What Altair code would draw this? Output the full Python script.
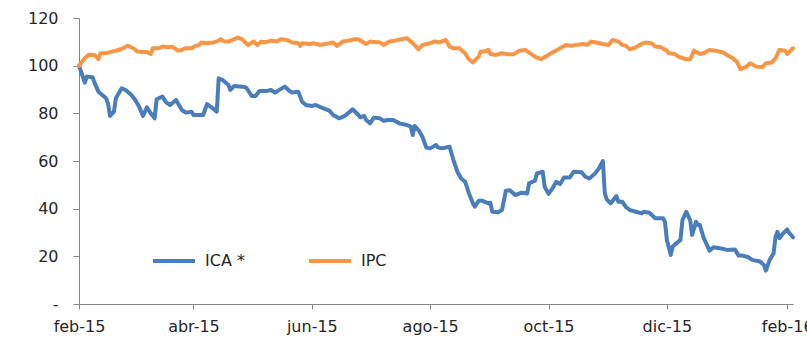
import altair as alt
import pandas as pd

START = "2015-02-01"  # day 0 of the day index below

ica_day = [0, 3, 4, 7, 8, 10, 14, 15, 16, 18, 19, 22, 24, 27, 29, 31, 33, 35, 37, 39,
           40, 43, 45, 47, 50, 53, 55, 58, 59, 64, 66, 69, 71, 72, 74, 77, 78, 80, 84, 86,
           87, 89, 91, 93, 97, 99, 101, 106, 109, 110, 113, 114, 115, 117, 120, 122, 126, 129, 131, 134,
           137, 141, 144, 145, 147, 148, 150, 152, 155, 157, 159, 162, 165, 169, 171, 172, 173, 175, 177, 179,
           181, 184, 185, 187, 191, 193, 195, 197, 199, 201, 203, 204, 206, 208, 211, 212, 213, 216, 218, 220,
           222, 225, 228, 231, 232, 235, 236, 239, 240, 242, 244, 246, 248, 250, 253, 255, 259, 261, 263, 266,
           268, 270, 271, 272, 274, 277, 278, 280, 282, 284, 287, 290, 291, 294, 297, 301, 302, 303, 305, 306,
           310, 311, 313, 315, 316, 318, 319, 320, 322, 325, 327, 331, 334, 338, 340, 342, 345, 347, 351, 353,
           354, 356, 358, 359, 360, 361, 363, 365, 366, 368]
ica_val = [100.0, 92.9, 95.4, 95.1, 92.9, 89.1, 86.3, 83.9, 78.9, 80.7, 86.3, 90.5, 89.8, 87.7, 85.6, 82.8, 78.9, 82.5, 80.0, 77.9,
           85.9, 87.0, 84.5, 83.5, 85.6, 81.4, 80.3, 80.7, 79.3, 79.3, 83.9, 82.1, 80.7, 94.7, 94.0, 91.9, 89.8, 91.5, 91.2, 90.9,
           89.8, 87.3, 87.3, 89.4, 89.4, 89.8, 88.7, 91.2, 89.1, 88.7, 89.1, 87.0, 84.9, 83.5, 83.1, 83.5, 82.1, 81.1, 79.3, 77.9,
           78.9, 81.7, 79.3, 78.3, 78.9, 77.2, 75.8, 78.2, 77.9, 76.9, 77.2, 77.2, 75.8, 75.1, 74.4, 70.9, 74.7, 73.0, 70.2, 65.6,
           65.3, 66.7, 65.7, 65.3, 66.0, 60.4, 55.5, 52.7, 51.3, 46.4, 42.3, 40.8, 43.3, 43.3, 42.2, 42.5, 38.7, 38.5, 39.4, 47.5,
           47.7, 45.7, 46.7, 46.4, 50.6, 51.7, 54.8, 55.5, 49.2, 46.2, 48.5, 51.3, 50.3, 53.1, 53.1, 55.5, 55.3, 53.4, 52.7, 54.8,
           56.9, 60.0, 46.4, 43.9, 42.2, 45.3, 42.9, 42.9, 40.6, 39.4, 38.7, 38.0, 38.7, 38.3, 36.0, 36.0, 34.5, 26.9, 20.6, 24.1,
           26.9, 35.2, 38.7, 35.2, 29.0, 34.5, 33.1, 33.1, 27.6, 22.4, 23.8, 23.3, 22.7, 22.9, 20.3, 20.3, 19.6, 18.5, 17.8, 16.4,
           14.0, 18.5, 21.3, 28.2, 30.3, 27.6, 29.7, 31.3, 29.9, 28.0]

ipc_day = [0, 3, 5, 8, 10, 11, 14, 16, 19, 22, 25, 28, 30, 33, 35, 37, 38, 41, 43, 46,
           48, 51, 53, 55, 58, 60, 62, 63, 65, 69, 71, 73, 75, 77, 80, 82, 84, 87, 90, 92,
           94, 96, 99, 102, 104, 107, 110, 113, 114, 115, 119, 121, 124, 127, 131, 133, 136, 139, 142, 144,
           148, 150, 153, 155, 157, 160, 163, 166, 169, 171, 173, 175, 177, 181, 183, 186, 189, 191, 193, 196,
           199, 201, 203, 206, 207, 209, 211, 212, 215, 218, 221, 224, 227, 230, 232, 235, 238, 241, 244, 248,
           251, 254, 256, 260, 262, 264, 266, 270, 273, 275, 278, 280, 282, 284, 287, 290, 292, 295, 297, 300,
           303, 304, 307, 309, 310, 313, 315, 317, 320, 322, 325, 328, 332, 334, 337, 339, 341, 344, 346, 349,
           352, 354, 357, 359, 361, 364, 365, 368]
ipc_val = [100.0, 103.1, 104.6, 104.5, 102.7, 105.2, 105.2, 105.7, 106.3, 107.0, 108.4, 107.3, 105.9, 105.7, 105.7, 104.9, 107.3, 107.3, 108.0, 107.7,
           108.0, 106.3, 106.6, 107.3, 107.3, 108.3, 108.7, 109.7, 109.4, 109.7, 110.1, 111.1, 110.1, 110.1, 111.1, 111.8, 111.1, 108.7, 110.1, 108.7,
           110.1, 109.8, 110.5, 110.1, 111.1, 110.8, 109.7, 109.4, 108.3, 109.4, 109.1, 109.4, 108.7, 109.1, 109.7, 108.3, 110.1, 110.5, 111.1, 111.1,
           109.1, 110.1, 109.8, 109.8, 108.7, 110.1, 110.5, 111.1, 111.5, 110.1, 108.7, 106.8, 108.7, 109.4, 110.1, 109.8, 110.8, 108.0, 107.3, 107.3,
           105.2, 102.7, 101.4, 103.8, 105.9, 105.9, 106.6, 104.9, 104.5, 105.2, 104.8, 104.8, 106.3, 106.6, 105.5, 103.8, 102.7, 104.1, 105.5, 107.3,
           108.7, 108.3, 108.7, 109.1, 108.7, 110.1, 109.8, 109.1, 108.7, 110.8, 110.1, 108.7, 108.3, 106.8, 107.7, 109.1, 109.7, 109.4, 108.0, 107.7,
           106.3, 105.2, 104.9, 103.8, 103.5, 102.7, 102.7, 106.3, 104.9, 105.2, 106.6, 106.3, 105.5, 104.5, 103.1, 101.7, 98.5, 99.6, 101.0, 99.6,
           99.3, 101.0, 101.3, 103.1, 106.6, 106.3, 104.9, 107.3]

series_names = ["ICA *", "IPC"]
series_colors = ["#4a7ebb", "#f79646"]
month_names = ["ene", "feb", "mar", "abr", "may", "jun", "jul", "ago", "sep", "oct", "nov", "dic"]

base = pd.Timestamp(START)


def frame(days, vals, name, order):
    return pd.DataFrame({
        "date": [(base + pd.Timedelta(days=d)).strftime("%Y-%m-%d") for d in days],
        "value": vals,
        "serie": name,
        "ord": order,
    })


df = pd.concat([frame(ica_day, ica_val, series_names[0], 0),
                frame(ipc_day, ipc_val, series_names[1], 1)], ignore_index=True)

tick_dates = [alt.DateTime(year=2015, month=m, date=1, utc=True) for m in [2, 4, 6, 8, 10, 12]] + \
             [alt.DateTime(year=2016, month=2, date=1, utc=True)]

label_expr = ("[" + ",".join("'%s'" % m for m in month_names) + "][utcmonth(datum.value)]"
              " + '-' + utcFormat(datum.value, '%y')")

chart = alt.Chart(df).mark_line(strokeWidth=4, strokeJoin="round", strokeCap="round").encode(
    x=alt.X("date:T",
            scale=alt.Scale(type="utc",
                            domain=[alt.DateTime(year=2015, month=2, date=1, utc=True),
                                    alt.DateTime(year=2016, month=2, date=4, utc=True)]),
            axis=alt.Axis(title=None, values=tick_dates, labelExpr=label_expr, grid=False,
                          tickSize=5, labelPadding=9, labelFlush=False, labelOverlap=False)),
    y=alt.Y("value:Q",
            scale=alt.Scale(domain=[0, 120], nice=False, zero=True),
            axis=alt.Axis(title=None, values=[0, 20, 40, 60, 80, 100, 120],
                          labelExpr="datum.value == 0 ? '-' : datum.label",
                          grid=False, tickSize=6, labelPadding=15)),
    color=alt.Color("serie:N",
                    scale=alt.Scale(domain=series_names, range=series_colors),
                    legend=alt.Legend(title=None, orient="none", legendX=72, legendY=220,
                                      direction="horizontal", symbolType="stroke",
                                      symbolSize=1764, symbolStrokeWidth=4,
                                      labelFontSize=16, labelFont="DejaVu Sans",
                                      labelColor="#262626", labelOffset=8,
                                      columnPadding=56, padding=0)),
    order=alt.Order("ord:Q"),
).properties(
    width=714, height=286,
    autosize=alt.AutoSizeParams(type="none"),
    padding={"left": 79, "top": 18, "right": 14, "bottom": 48},
).configure_view(stroke=None).configure_axis(
    domainColor="#868686", tickColor="#868686", labelFont="DejaVu Sans",
    labelFontSize=16, labelColor="#262626",
)

chart.save("out.html", embed_options={"renderer": "svg", "actions": False})
